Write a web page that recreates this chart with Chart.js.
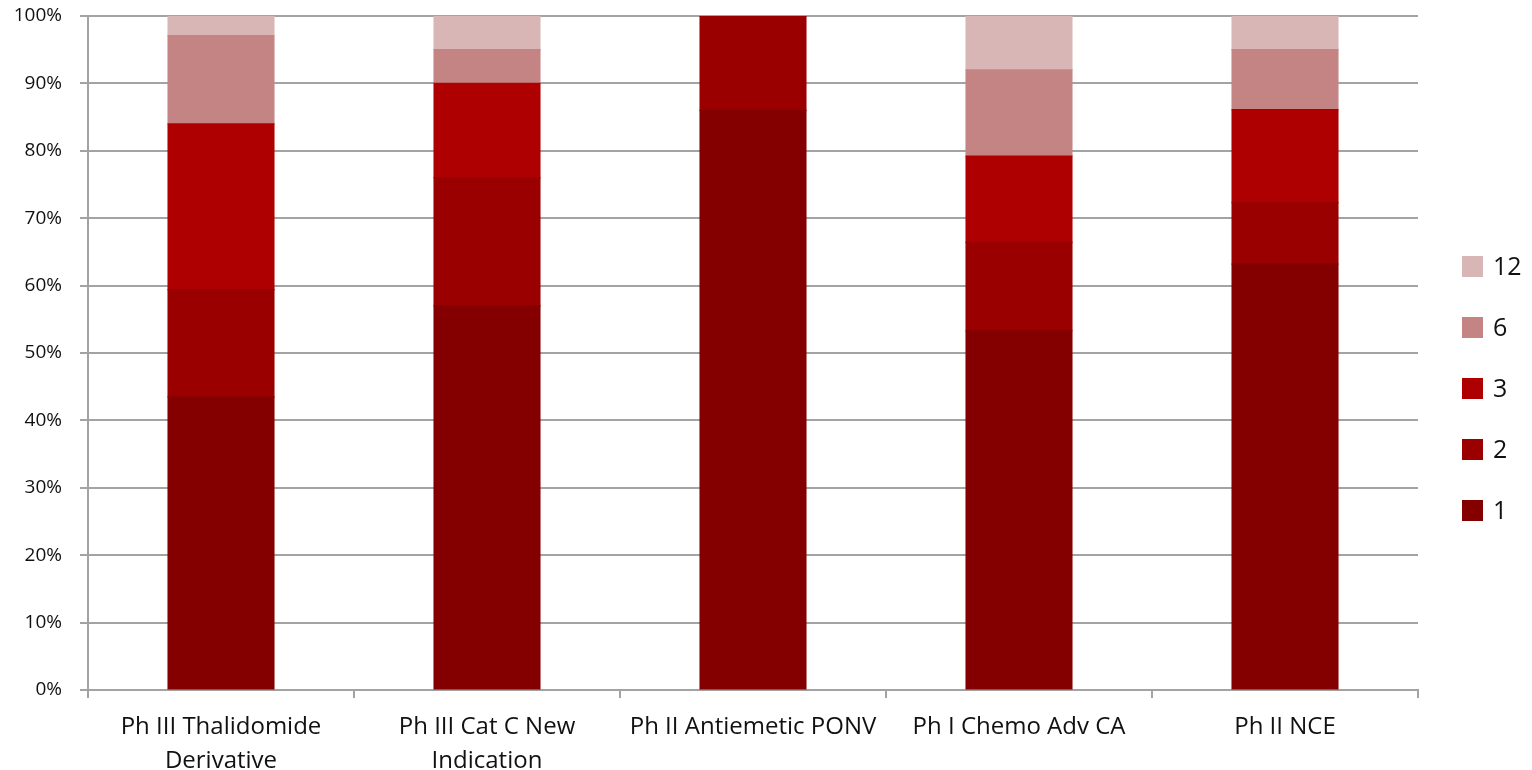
<!DOCTYPE html>
<html>
<head>
<meta charset="utf-8">
<title>Stacked share by product</title>
<script src="https://cdn.jsdelivr.net/npm/chart.js@4.4.0/dist/chart.umd.min.js"></script>
<style>
  html, body { margin: 0; padding: 0; background: #ffffff; }
  #wrap { width: 1532px; height: 770px; position: relative; }
</style>
</head>
<body>
<div id="wrap"><canvas id="chart" width="1532" height="770"></canvas></div>
<script>
// Categories (multi-line labels are arrays)
const categories = [
  ["Ph III Thalidomide", "Derivative"],
  ["Ph III Cat C New", "Indication"],
  "Ph II Antiemetic PONV",
  "Ph I Chemo Adv CA",
  "Ph II NCE"
];

// Series names
const seriesNames = ["1", "2", "3", "6", "12"];

// Share of each series per category (%)
const series1  = [43.5, 57.0, 86.0, 53.3, 63.2];
const series2  = [15.9, 19.0, 14.0, 13.1,  9.1];
const series3  = [24.6, 14.0,  0.0, 12.8, 13.8];
const series6  = [13.1,  5.0,  0.0, 12.8,  8.9];
const series12 = [ 2.9,  5.0,  0.0,  8.0,  5.0];

// Y axis ticks
const yTicks = [0, 10, 20, 30, 40, 50, 60, 70, 80, 90, 100];

const seriesValues = [series1, series2, series3, series6, series12];
const seriesColors = ["#840000", "#9b0000", "#ae0000", "#c48484", "#d9b6b6"];

const FONT = "'Open Sans', Lato, sans-serif";
const TEXT = "#111111";
const GRID = "#a3a3a3";

// Legend drawn at the right, top item = last series
const sideLegend = {
  id: 'sideLegend',
  afterDraw(chart) {
    const ctx = chart.ctx;
    const ds = chart.data.datasets;
    const n = ds.length;
    const step = 61, box = 21;
    const x = chart.chartArea.right + 44;
    const cy = chart.height / 2 + 3.5;
    const y0 = cy - (n - 1) * step / 2;
    ctx.save();
    ctx.font = "25px " + FONT;
    ctx.textBaseline = 'middle';
    ctx.textAlign = 'left';
    for (let i = 0; i < n; i++) {
      const d = ds[n - 1 - i];
      const y = y0 + i * step;
      ctx.fillStyle = d.backgroundColor;
      ctx.fillRect(x, Math.round(y - box / 2), box, box);
      ctx.fillStyle = TEXT;
      ctx.fillText(d.label, x + box + 10, y + 1);
    }
    ctx.restore();
  }
};

function build() {
  new Chart(document.getElementById('chart'), {
    type: 'bar',
    data: {
      labels: categories,
      datasets: seriesNames.map((name, i) => ({
        label: name,
        data: seriesValues[i],
        backgroundColor: seriesColors[i],
        borderWidth: 0,
        inflateAmount: 0.6,
        barPercentage: 0.398,
        categoryPercentage: 1.0
      }))
    },
    options: {
      responsive: false,
      animation: false,
      layout: { padding: { top: 16, right: 114, bottom: 0, left: 0 } },
      plugins: {
        legend: { display: false },
        tooltip: { enabled: false }
      },
      scales: {
        x: {
          stacked: true,
          offset: true,
          grid: {
            offset: true,
            drawOnChartArea: false,
            drawTicks: true,
            tickLength: 8,
            color: GRID,
            lineWidth: 2
          },
          border: { display: true, color: GRID, width: 2 },
          ticks: {
            color: TEXT,
            font: { family: FONT, size: 24, lineHeight: 1.42 },
            padding: 12,
            maxRotation: 0,
            autoSkip: false
          },
          afterFit(scale) { scale.height = 80; }
        },
        y: {
          stacked: true,
          min: 0,
          max: 100,
          afterBuildTicks(scale) { scale.ticks = yTicks.map(v => ({ value: v })); },
          grid: {
            drawTicks: true,
            tickLength: 8,
            color: GRID,
            lineWidth: 2
          },
          border: { display: true, color: GRID, width: 2 },
          ticks: {
            color: TEXT,
            font: { family: FONT, size: 19 },
            padding: 18,
            callback: v => v + '%'
          },
          afterFit(scale) {
            scale.width = 88;
            scale.paddingTop = 0;
            scale.paddingBottom = 0;
          }
        }
      }
    },
    plugins: [sideLegend]
  });
}

if (document.fonts && document.fonts.load) {
  Promise.all([
    document.fonts.load("24px 'Open Sans'"),
    document.fonts.load("19px 'Open Sans'"),
    document.fonts.load("25px 'Open Sans'")
  ]).then(build, build);
} else {
  build();
}
</script>
</body>
</html>
